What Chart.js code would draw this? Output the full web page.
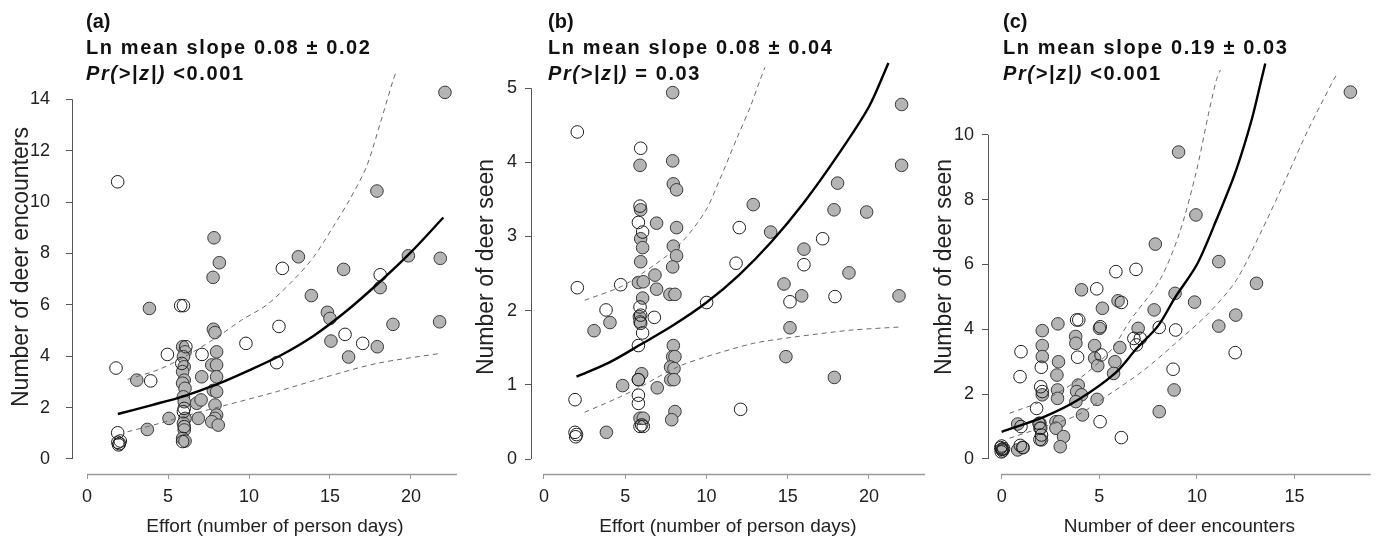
<!DOCTYPE html>
<html>
<head>
<meta charset="utf-8">
<script src="https://cdn.jsdelivr.net/npm/chart.js@4.4.0/dist/chart.umd.min.js"></script>
<style>
  body { margin: 0; background: #fff; width: 1378px; height: 542px; overflow: hidden; position: relative;
         font-family: 'Liberation Sans', Arial, sans-serif; }
  canvas { position: absolute; left: 0; top: 0; }
  .hd { position: absolute; top: 8px; font-size: 20px; line-height: 26px; color: #111; font-weight: bold; white-space: nowrap; }
  .hd .s { letter-spacing: 1.6px; }
</style>
</head>
<body>
<canvas id="pa" width="1378" height="542"></canvas>
<canvas id="pb" width="1378" height="542"></canvas>
<canvas id="pc" width="1378" height="542"></canvas>

<div class="hd" style="left:86px">(a)<br><span class="s">Ln mean slope 0.08 ± 0.02</span><br><span class="s"><i>Pr(&gt;|z|)</i> &lt;0.001</span></div>
<div class="hd" style="left:548px">(b)<br><span class="s">Ln mean slope 0.08 ± 0.04</span><br><span class="s"><i>Pr(&gt;|z|)</i> = 0.03</span></div>
<div class="hd" style="left:1003px">(c)<br><span class="s">Ln mean slope 0.19 ± 0.03</span><br><span class="s"><i>Pr(&gt;|z|)</i> &lt;0.001</span></div>

<script>
// ---- panel (a): deer encounters vs effort ---------------------------------
const aTicksX = [0, 5, 10, 15, 20];
const aTicksY = [0, 2, 4, 6, 8, 10, 12, 14];
const aGray = [
  [22.1,14.27],[17.9,10.43],[7.84,8.61],[8.17,7.64],[7.78,7.07],[13.05,7.87],[15.84,7.38],[19.84,7.91],
  [21.81,7.81],[18.1,6.67],[3.85,5.86],[13.85,6.36],[14.84,5.71],[15.0,5.47],[7.8,5.05],[7.9,4.92],
  [21.77,5.34],[18.89,5.24],[15.06,4.59],[17.92,4.37],[16.15,3.97],[3.07,3.07],[3.72,1.15],[5.06,1.58],
  [6.87,1.58],[6.77,2.17],[7.04,2.3],[7.08,3.2],
  [8.0,4.17],[7.7,3.66],[8.0,3.66],[8.0,3.2],[7.8,2.67],[8.0,2.62],[7.9,2.1],[8.0,1.71],[7.9,1.58],
  [7.7,1.45],[8.1,1.32],
  [5.9,4.37],[6.05,4.17],[5.95,3.98],[6.0,3.59],[5.9,3.4],[6.0,3.07],[5.9,2.95],[6.05,2.75],[5.95,2.42],
  [6.0,2.23],[6.05,1.58],[5.95,1.39],[6.0,1.13],[5.9,0.8],[6.05,0.7]
];
const aOpen = [
  [1.89,10.79],[12.06,7.42],[18.1,7.17],[5.78,5.97],[5.95,5.97],[11.85,5.16],[9.81,4.5],[15.93,4.85],
  [17.02,4.5],[11.71,3.75],[4.96,4.07],[7.1,4.07],[1.79,3.54],[3.93,3.04],[1.89,1.02],[1.9,0.65],
  [2.0,0.6],[2.05,0.7],[1.95,0.55],[6.1,4.37],[5.85,3.72],[6.0,1.97],[5.95,1.84],[6.0,1.26],[5.9,0.68]
];
const aFit = [[1.9,1.75],[4,2.1],[6,2.45],[8,2.9],[10,3.45],[12,4.05],[14,4.8],[16,5.75],[18,6.85],[20,8.05],[22,9.4]];
const aHi = [[2.5,3.1],[4.5,3.5],[6.5,4.15],[8.2,4.82],[9.55,5.41],[11.1,6.0],[12.75,6.97],[14,7.87],
  [15.2,9.04],[16.2,10.08],[17.25,11.37],[18.1,13.06],[18.9,14.75],[19.1,15.1]];
const aLo = [[2.5,1.06],[4.5,1.39],[6.5,1.75],[8.6,2.1],[11.7,2.62],[14.8,3.2],[17.9,3.72],[21.8,4.11]];

// ---- panel (b): deer seen vs effort ----------------------------------------
const bTicksX = [0, 5, 10, 15, 20];
const bTicksY = [0, 1, 2, 3, 4, 5];
const bGray = [
  [7.92,4.94],[22.01,4.78],[5.91,3.96],[7.92,4.02],[22.01,3.96],[7.96,3.71],[8.16,3.63],[18.07,3.72],
  [12.88,3.43],[17.85,3.36],[19.86,3.33],[5.95,3.36],[6.93,3.18],[8.16,3.12],[13.95,3.06],[5.95,2.97],
  [6.07,2.85],[7.96,2.87],[16.0,2.83],[8.16,2.74],[5.95,2.66],[7.92,2.59],[6.83,2.48],[18.77,2.51],
  [5.81,2.38],[6.11,2.39],[14.77,2.36],[6.93,2.29],[6.07,2.17],[7.75,2.22],[8.06,2.22],[15.86,2.2],
  [21.85,2.2],[5.87,1.92],[5.91,1.85],[4.06,1.84],[3.08,1.73],[15.14,1.77],[7.96,1.53],[7.92,1.38],
  [8.06,1.38],[14.89,1.38],[7.79,1.24],[8.0,1.22],[6.01,1.15],[5.81,1.07],[7.8,1.07],[8.0,1.07],
  [17.87,1.1],[4.84,0.99],[6.97,0.96],[8.06,0.64],[7.86,0.53],[5.91,0.55],[6.11,0.55],[3.84,0.36]
];
const bOpen = [
  [2.05,4.41],[5.95,4.19],[5.91,3.41],[5.81,3.19],[12.02,3.12],[6.07,3.06],[17.15,2.97],[11.82,2.64],
  [16.0,2.62],[4.72,2.35],[2.05,2.31],[17.91,2.19],[3.82,2.01],[10.01,2.11],[15.14,2.12],[5.91,2.05],
  [5.95,1.94],[5.95,1.83],[6.79,1.91],[6.07,1.7],[5.81,1.53],[5.81,1.07],[5.81,0.86],[5.81,0.75],
  [1.91,0.8],[12.1,0.67],[5.91,0.44],[6.01,0.46],[6.11,0.44],[1.91,0.36],[1.95,0.3],[2.0,0.33]
];
const bFit = [[2,1.11],[4,1.3],[6,1.55],[8,1.81],[10,2.11],[12,2.48],[14,2.93],[16,3.46],[18,4.07],[20,4.75],[21.2,5.34]];
const bHi = [[2.5,2.14],[4.7,2.32],[5.9,2.48],[8.2,2.86],[9.9,3.33],[10.8,3.76],[11.9,4.34],[12.7,4.75],[13.3,5.11],[13.6,5.28]];
const bLo = [[2.5,0.63],[4.7,0.84],[5.9,0.97],[8.2,1.24],[10,1.38],[12.9,1.56],[14.9,1.63],[17,1.69],[19,1.74],[21.9,1.78]];

// ---- panel (c): deer seen vs encounters ------------------------------------
const cTicksX = [0, 5, 10, 15];
const cTicksY = [0, 2, 4, 6, 8, 10];
const cGray = [
  [17.86,11.32],[9.06,9.47],[9.95,7.53],[7.87,6.63],[11.12,6.09],[13.05,5.42],[4.09,5.22],[5.16,4.65],
  [5.96,4.88],[8.88,5.11],[9.88,4.84],[7.81,4.6],[11.99,4.44],[11.12,4.1],[2.88,4.17],[2.08,3.96],
  [5.01,4.03],[6.99,4.03],[3.79,3.78],[3.8,3.57],[4.76,3.5],[6.05,3.44],[2.08,3.5],[2.08,3.16],
  [2.91,3.0],[4.76,3.11],[4.92,2.88],[5.8,3.0],[5.73,2.64],[2.83,2.59],[8.83,2.13],[3.92,2.28],
  [2.86,2.13],[2.86,1.87],[2.08,1.98],[3.84,2.08],[4.09,1.98],[3.8,1.77],[4.89,1.84],[8.07,1.46],
  [4.14,1.36],[0.82,1.08],[1.96,1.1],[1.96,0.95],[2.78,1.15],[2.95,1.15],[2.78,0.95],[2.04,0.59],
  [3.17,0.69],[3.0,0.38],[0.82,0.28],[1.07,0.36],[0.05,0.3]
];
const cOpen = [
  [5.85,5.78],[6.88,5.85],[4.87,5.25],[6.13,4.83],[3.84,4.29],[3.95,4.29],[5.05,4.08],[8.07,4.06],
  [8.91,3.98],[6.77,3.72],[7.1,3.72],[6.9,3.52],[0.99,3.31],[3.89,3.14],[5.09,3.21],[2.03,2.83],
  [11.96,3.28],[8.78,2.77],[0.94,2.54],[2.0,2.23],[2.08,2.08],[1.79,1.56],[5.04,1.15],[0.99,1.0],
  [1.91,1.1],[2.0,0.95],[2.04,0.74],[1.96,0.6],[6.13,0.66],[0.95,0.42],[1.1,0.35],
  [0,0.3],[0.05,0.25],[-0.05,0.35],[0.1,0.32],[0,0.4],[-0.02,0.22]
];
const cFit = [[0,0.84],[2.2,1.31],[3.9,1.82],[5.8,2.64],[6.9,3.4],[8,4.1],[8.9,5.0],[10,6.0],[11,7.38],[12,8.9],[12.8,10.46],[13.3,11.7],[13.5,12.2]];
const cHi = [[0.4,1.41],[2.2,1.82],[3.9,2.44],[5.6,3.36],[6.6,4.29],[8.1,5.52],[9.1,6.96],[9.95,8.82],[10.6,10.67],[11.0,11.7],[11.2,12.0]];
const cLo = [[0.4,0.64],[2.2,1.0],[3.9,1.36],[5.6,2.03],[7.3,2.75],[8.9,3.57],[10.6,4.5],[12,5.5],[13.2,6.9],[14.6,8.7],[15.65,10.1],[17,11.7],[17.2,11.9]];

// ---------------------------------------------------------------------------
const FONT = "'Liberation Sans', Arial, sans-serif";
const INK = '#222';

const toPts = arr => arr.map(p => ({ x: p[0], y: p[1] }));

function curve(arr, color, width, dash) {
  return { data: toPts(arr), showLine: true, borderColor: color, borderWidth: width, borderDash: dash,
           pointRadius: 0, fill: false, tension: 0.3 };
}

// R-style detached axis lines: y from first to last tick, x from first tick to xEnd
const rAxes = {
  id: 'rAxes',
  afterDraw(chart, args, o) {
    const { ctx, chartArea: ca, scales: { x, y } } = chart;
    ctx.save();
    ctx.strokeStyle = '#555'; ctx.lineWidth = 1;
    ctx.beginPath();
    ctx.moveTo(Math.round(ca.left) + 0.5, y.getPixelForValue(o.yTicks[0]));
    ctx.lineTo(Math.round(ca.left) + 0.5, y.getPixelForValue(o.yTicks[o.yTicks.length - 1]));
    ctx.stroke();
    ctx.strokeStyle = '#999'; ctx.lineWidth = 1.5;
    ctx.beginPath();
    ctx.moveTo(x.getPixelForValue(o.xTicks[0]), ca.bottom + 0.5);
    ctx.lineTo(x.getPixelForValue(o.xEnd), ca.bottom + 0.5);
    ctx.stroke();
    ctx.restore();
  }
};

function panel(id, c) {
  return new Chart(document.getElementById(id), {
    type: 'scatter',
    data: { datasets: [
      curve(c.fit, '#000', 2.4, []),
      curve(c.hi, '#6a6a6a', 1, [5, 4]),
      curve(c.lo, '#6a6a6a', 1, [5, 4]),
      { data: toPts(c.open), pointRadius: 6.3, backgroundColor: 'rgba(0,0,0,0)', borderColor: '#1e1e1e', borderWidth: 1 },
      { data: toPts(c.gray), pointRadius: 6.3, backgroundColor: '#b4b4b4', borderColor: '#3a3a3a', borderWidth: 1 },
    ]},
    options: {
      responsive: false, animation: false, events: [],
      layout: { padding: c.pad },
      plugins: { legend: { display: false }, tooltip: { enabled: false },
                 rAxes: { xTicks: c.xTicks, yTicks: c.yTicks, xEnd: c.xEnd } },
      scales: {
        x: {
          type: 'linear', bounds: 'data', min: c.xMin, max: c.xMax,
          afterBuildTicks: s => { s.ticks = c.xTicks.map(v => ({ value: v })); },
          afterFit: s => { s.height = 68; },
          border: { display: false },
          grid: { drawOnChartArea: false, drawTicks: true, tickLength: 5, color: '#999', lineWidth: 1 },
          ticks: { autoSkip: false, maxRotation: 0, padding: 7, color: INK, font: { family: FONT, size: 18 }, callback: v => String(v) },
          title: { display: true, text: c.xTitle, color: INK, font: { family: FONT, size: 19 }, padding: { top: 0, bottom: 4 } }
        },
        y: {
          type: 'linear', bounds: 'data', min: c.yMin, max: c.yMax,
          afterBuildTicks: s => { s.ticks = c.yTicks.map(v => ({ value: v })); },
          afterFit: s => { s.width = c.yW; },
          border: { display: false },
          grid: { drawOnChartArea: false, drawTicks: true, tickLength: 6, color: '#555', lineWidth: 1 },
          ticks: { autoSkip: false, padding: c.yGap, color: INK, font: { family: FONT, size: 18 }, callback: v => String(v) },
          title: { display: true, text: c.yTitle, color: INK, font: { family: FONT, size: 23 }, padding: { top: c.yTitlePad, bottom: 0 } }
        }
      }
    },
    plugins: [rAxes]
  });
}

panel('pa', {
  gray: aGray, open: aOpen, fit: aFit, hi: aHi, lo: aLo, xTicks: aTicksX, yTicks: aTicksY,
  xMin: -0.93, xMax: 24.14, xEnd: 22.84, yMin: -0.584, yMax: 15.53,
  pad: { left: 0, right: 900, top: 60, bottom: 0 }, yW: 72, yGap: 16, yTitlePad: 8,
  xTitle: 'Effort (number of person days)', yTitle: 'Number of deer encounters'
});
panel('pb', {
  gray: bGray, open: bOpen, fit: bFit, hi: bHi, lo: bLo, xTicks: bTicksX, yTicks: bTicksY,
  xMin: -0.8, xMax: 23.45, xEnd: 23.45, yMin: -0.202, yMax: 5.38,
  pad: { left: 471, right: 453, top: 60, bottom: 0 }, yW: 60, yGap: 8, yTitlePad: 2,
  xTitle: 'Effort (number of person days)', yTitle: 'Number of deer seen'
});
panel('pc', {
  gray: cGray, open: cOpen, fit: cFit, hi: cHi, lo: cLo, xTicks: cTicksX, yTicks: cTicksY,
  xMin: -0.70, xMax: 18.9, xEnd: 18.9, yMin: -0.463, yMax: 12.31,
  pad: { left: 928, right: 0, top: 60, bottom: 0 }, yW: 60, yGap: 8, yTitlePad: 3,
  xTitle: 'Number of deer encounters', yTitle: 'Number of deer seen'
});
</script>
</body>
</html>
